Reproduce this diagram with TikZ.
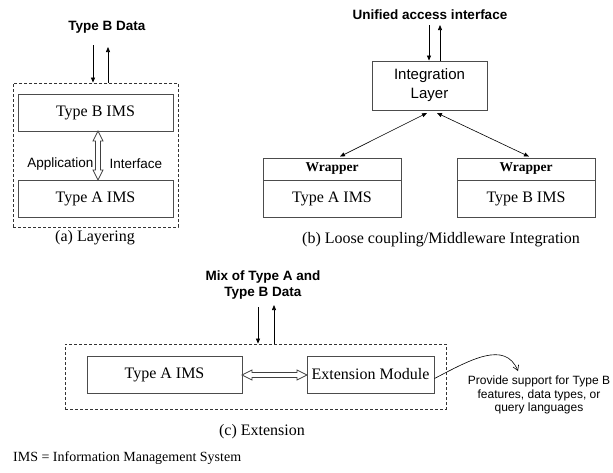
\documentclass[tikz,border=0pt]{standalone}
\usepackage{fontspec}
\setmainfont{Liberation Serif}
\setsansfont{Liberation Sans}
\usetikzlibrary{arrows.meta,calc}
\begin{document}
\begin{tikzpicture}[x=1pt,y=-1pt,
  box/.style={draw=black!70,line width=0.9pt,minimum height=37pt,inner sep=0pt,font=\fontsize{16}{18}\selectfont},
  dbox/.style={draw=black!80,dashed,dash pattern=on 3pt off 2pt,line width=0.8pt,inner sep=0pt},
  blbl/.style={font=\sffamily\bfseries\fontsize{13.5}{16}\selectfont,align=center,inner sep=0pt},
  slbl/.style={font=\sffamily\fontsize{13.5}{16}\selectfont,inner sep=0pt},
  captext/.style={font=\fontsize{16}{18}\selectfont,inner sep=0pt},
  arr/.style={line width=0.7pt,-{Triangle[length=5pt,width=4pt]}},
  darr/.style={line width=0.6pt,{Triangle[length=5pt,width=4pt]}-{Triangle[length=5pt,width=4pt]}},
  hollow/.style={draw=black!75,line width=0.7pt,fill=white}]
\useasboundingbox (0,0) rectangle (613,472);
% ---------- (a) Layering
\node[blbl] (tbd) at (107,27) {Type B Data};
\node[dbox,minimum width=165pt,minimum height=144pt] (boxa) at (95.5,155) {};
\node[box,minimum width=155pt] (tbims) at (95.5,112.5) {Type B IMS};
\node[box,minimum width=155pt] (taims) at (95.5,198.5) {Type A IMS};
\draw[hollow] (98,131) -- (103,141) -- (100.5,141) -- (100.5,170) -- (103,170) -- (98,180)
  -- (93,170) -- (95.5,170) -- (95.5,141) -- (93,141) -- cycle;
\node[slbl,anchor=east] (appl) at (93.5,164) {Application};
\node[slbl,anchor=west] (intf) at (109.5,164) {Interface};
\coordinate (a1) at (93,45);
\coordinate (a2) at (108,47);
\draw[arr] (a1) -- (a1 |- boxa.north);
\draw[arr] (a2 |- boxa.north) -- (a2);
\node[captext] (capa) at (95,238) {(a) Layering};
% ---------- (b) Loose coupling
\node[blbl] (uai) at (430,15) {Unified access interface};
\node[draw=black!70,line width=0.9pt,minimum width=115pt,minimum height=49pt,align=center,
  font=\sffamily\fontsize{15}{19}\selectfont,inner sep=0pt] (il) at (429.5,85.5) {Integration\\Layer};
\coordinate (b1) at (429,25);
\coordinate (b2) at (440,25);
\draw[arr] (b1) -- (b1 |- il.north);
\draw[arr] (b2 |- il.north) -- (b2);
\node[box,minimum width=138pt,minimum height=22pt,font=\bfseries\fontsize{13.5}{16}\selectfont] (wa) at (332,169) {Wrapper};
\node[box,minimum width=138pt,anchor=north] (wai) at (wa.south) {Type A IMS};
\node[box,minimum width=138pt,minimum height=22pt,font=\bfseries\fontsize{13.5}{16}\selectfont] (wb) at (526,169) {Wrapper};
\node[box,minimum width=138pt,anchor=north] (wbi) at (wb.south) {Type B IMS};
\coordinate (i1) at (427,113);
\coordinate (i2) at (437,113);
\draw[darr] (i1) -- ($(wa.north)+(8,-1)$);
\draw[darr] (i2) -- ($(wb.north)+(3,-1)$);
\node[captext,anchor=west] (capb) at (302,240) {(b) Loose coupling/Middleware Integration};
% ---------- (c) Extension
\node[blbl] (mix) at (263,285) {Mix of Type A and\\Type B Data};
\node[dbox,minimum width=381pt,minimum height=65pt] (boxc) at (255.5,376.5) {};
\node[box,minimum width=155pt] (cta) at (164.5,374.5) {Type A IMS};
\node[box,minimum width=127pt] (ext) at (370.5,374.5) {Extension Module};
\coordinate (c1) at (258,307);
\coordinate (c2) at (274,305);
\draw[arr] (c1) -- (c1 |- boxc.north);
\draw[arr] (c2 |- boxc.north) -- (c2);
\draw[hollow] (242,375) -- (252,370) -- (252,372.5) -- (297,372.5) -- (297,370) -- (307,375)
  -- (297,380) -- (297,377.5) -- (252,377.5) -- (252,380) -- cycle;
\node[font=\sffamily\fontsize{12}{13.5}\selectfont,align=center,inner sep=0pt] (prov) at (539,395)
  {Provide support for Type B\\features, data types, or\\query languages};
\coordinate (ptip) at (518,371);
\draw[line width=0.6pt,-{Straight Barb[length=5pt,width=6pt]}] ($(ext.east)+(0,4)$)
  .. controls (470,360) and (505,340) .. (ptip);
\node[captext] (capc) at (262,432) {(c) Extension};
\node[font=\fontsize{14}{16}\selectfont,anchor=west,inner sep=0pt] (foot) at (13,458)
  {IMS = Information Management System};
\end{tikzpicture}
\end{document}
